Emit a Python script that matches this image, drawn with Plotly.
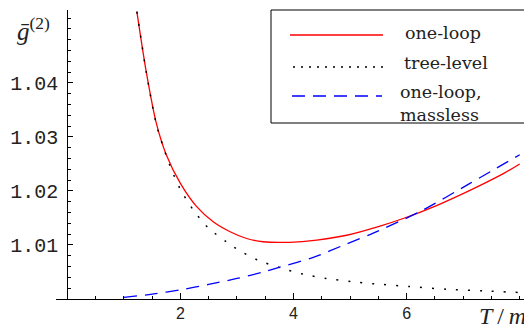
import plotly.graph_objects as go

# ---- data ----
T_one_loop = [1.23, 1.40, 1.575, 1.75, 2.00, 2.28, 2.58, 2.87, 3.17, 3.46, 3.93, 4.41, 4.94, 5.53, 5.94, 6.53, 7.12, 7.71, 8.00]
g_one_loop = [1.0532, 1.0418, 1.0325, 1.0267, 1.0214, 1.0172, 1.0143, 1.0125, 1.0112, 1.0106, 1.0105, 1.0109, 1.0118, 1.0135, 1.0149, 1.0173, 1.0201, 1.0232, 1.0250]

T_tree = [1.23, 1.40, 1.575, 1.69, 1.81, 1.99, 2.22, 2.49, 2.81, 2.99, 3.37, 3.76, 4.17, 4.58, 5.03, 5.44, 6.06, 6.71, 7.36, 8.00]
g_tree = [1.0532, 1.0418, 1.0323, 1.0284, 1.0248, 1.0205, 1.0166, 1.0132, 1.0106, 1.0093, 1.0072, 1.0058, 1.0046, 1.0038, 1.0032, 1.0028, 1.0023, 1.0018, 1.0015, 1.0012]

T_massless = [1.00, 1.50, 2.00, 2.50, 3.00, 3.50, 3.76, 4.35, 4.94, 5.41, 6.24, 7.12, 8.00]
g_massless = [1.0003, 1.0009, 1.0017, 1.0027, 1.0038, 1.0051, 1.0059, 1.0077, 1.0102, 1.0122, 1.0162, 1.0214, 1.0267]

x_tick_vals = [2, 4, 6]
x_tick_text = ["2", "4", "6"]
y_tick_vals = [1.01, 1.02, 1.03, 1.04]
y_tick_text = ["1.01", "1.02", "1.03", "1.04"]

legend_names = ["one-loop", "tree-level", "one-loop,<br>massless"]

# ---- layout geometry (page body has an 8px margin) ----
OFF = 8
W, H = 532 - OFF, 329 - OFF
ML, MR, MT, MB = 56 - OFF, 1, 10 - OFF, 30
PW, PH = W - ML - MR, H - MT - MB


def px(x):
    # screenshot pixel -> paper fraction
    return (x - OFF - ML) / PW


def py(y):
    return (MT + PH - (y - OFF)) / PH


fig = go.Figure()
fig.add_trace(go.Scatter(x=T_one_loop, y=g_one_loop, mode="lines",
                         line=dict(color="red", width=1.3, shape="spline", smoothing=0.8),
                         showlegend=False, name="one-loop"))
fig.add_trace(go.Scatter(x=T_tree, y=g_tree, mode="lines",
                         line=dict(color="black", width=1.5, dash="2px,10px", shape="spline", smoothing=0.8),
                         showlegend=False, name="tree-level"))
fig.add_trace(go.Scatter(x=T_massless, y=g_massless, mode="lines",
                         line=dict(color="blue", width=1.3, dash="13px,8px", shape="spline", smoothing=0.8),
                         showlegend=False, name="one-loop, massless"))

fig.update_layout(
    width=W, height=H,
    margin=dict(l=ML, r=MR, t=MT, b=MB, pad=0),
    paper_bgcolor="white", plot_bgcolor="white",
    xaxis=dict(range=[-0.2, 8.2], showgrid=False, zeroline=False, showline=True, linecolor="black", linewidth=1,
               tickmode="array", tickvals=x_tick_vals, ticktext=x_tick_text, ticks="inside", ticklen=6,
               tickcolor="black", tickwidth=1,
               tickfont=dict(family="Liberation Sans", size=16, color="#222"), ticklabelstandoff=0,
               minor=dict(tickmode="linear", dtick=0.5, tick0=0, ticks="inside", ticklen=3,
                          tickcolor="black", tickwidth=1, showgrid=False)),
    yaxis=dict(range=[1.0, 1.0535], showgrid=False, zeroline=False, showline=True, linecolor="black", linewidth=1,
               anchor="free", position=0.2 / 8.4,
               tickmode="array", tickvals=y_tick_vals, ticktext=y_tick_text, ticks="inside", ticklen=5,
               tickcolor="black", tickwidth=1,
               tickfont=dict(family="Liberation Mono", size=20, color="#222"), ticklabelstandoff=5,
               minor=dict(tickmode="linear", dtick=0.002, tick0=1.0, ticks="inside", ticklen=3,
                          tickcolor="black", tickwidth=1, showgrid=False)),
)

# axis titles
fig.add_annotation(x=px(33), y=py(29), xref="paper", yref="paper", text="<i>ḡ</i><sup>(2)</sup>",
                   xanchor="center", yanchor="middle",
                   showarrow=False, font=dict(family="Liberation Serif", size=25, color="#222"))
fig.add_annotation(x=px(502), y=py(316), xref="paper", yref="paper", text="<i>T</i>\u2009/\u2009<i>m</i>",
                   xanchor="center", yanchor="middle",
                   showarrow=False, font=dict(family="Liberation Serif", size=24, color="#222"))

# legend box
fig.add_shape(type="rect", xref="paper", yref="paper", x0=px(271), x1=px(530), y0=py(123), y1=py(10),
              line=dict(color="black", width=1), fillcolor="white", layer="above")
fig.add_shape(type="line", xref="paper", yref="paper", x0=px(290), x1=px(383), y0=py(35), y1=py(35),
              line=dict(color="red", width=1.3), layer="above")
fig.add_shape(type="line", xref="paper", yref="paper", x0=px(293), x1=px(383), y0=py(67), y1=py(67),
              line=dict(color="black", width=1.5, dash="2px,6px"), layer="above")
fig.add_shape(type="line", xref="paper", yref="paper", x0=px(292), x1=px(382), y0=py(96), y1=py(96),
              line=dict(color="blue", width=1.3, dash="13px,8px"), layer="above")

leg_font = dict(family="DejaVu Serif", size=17.5, color="#222")
fig.add_annotation(x=px(403), y=py(33), xref="paper", yref="paper", text=legend_names[0], showarrow=False,
                   xanchor="left", yanchor="middle", font=leg_font)
fig.add_annotation(x=px(402), y=py(63), xref="paper", yref="paper", text=legend_names[1], showarrow=False,
                   xanchor="left", yanchor="middle", font=leg_font)
fig.add_annotation(x=px(398), y=py(103), xref="paper", yref="paper", text=legend_names[2], showarrow=False,
                   xanchor="left", yanchor="middle", align="left", font=leg_font)

fig.write_html("out.html")
